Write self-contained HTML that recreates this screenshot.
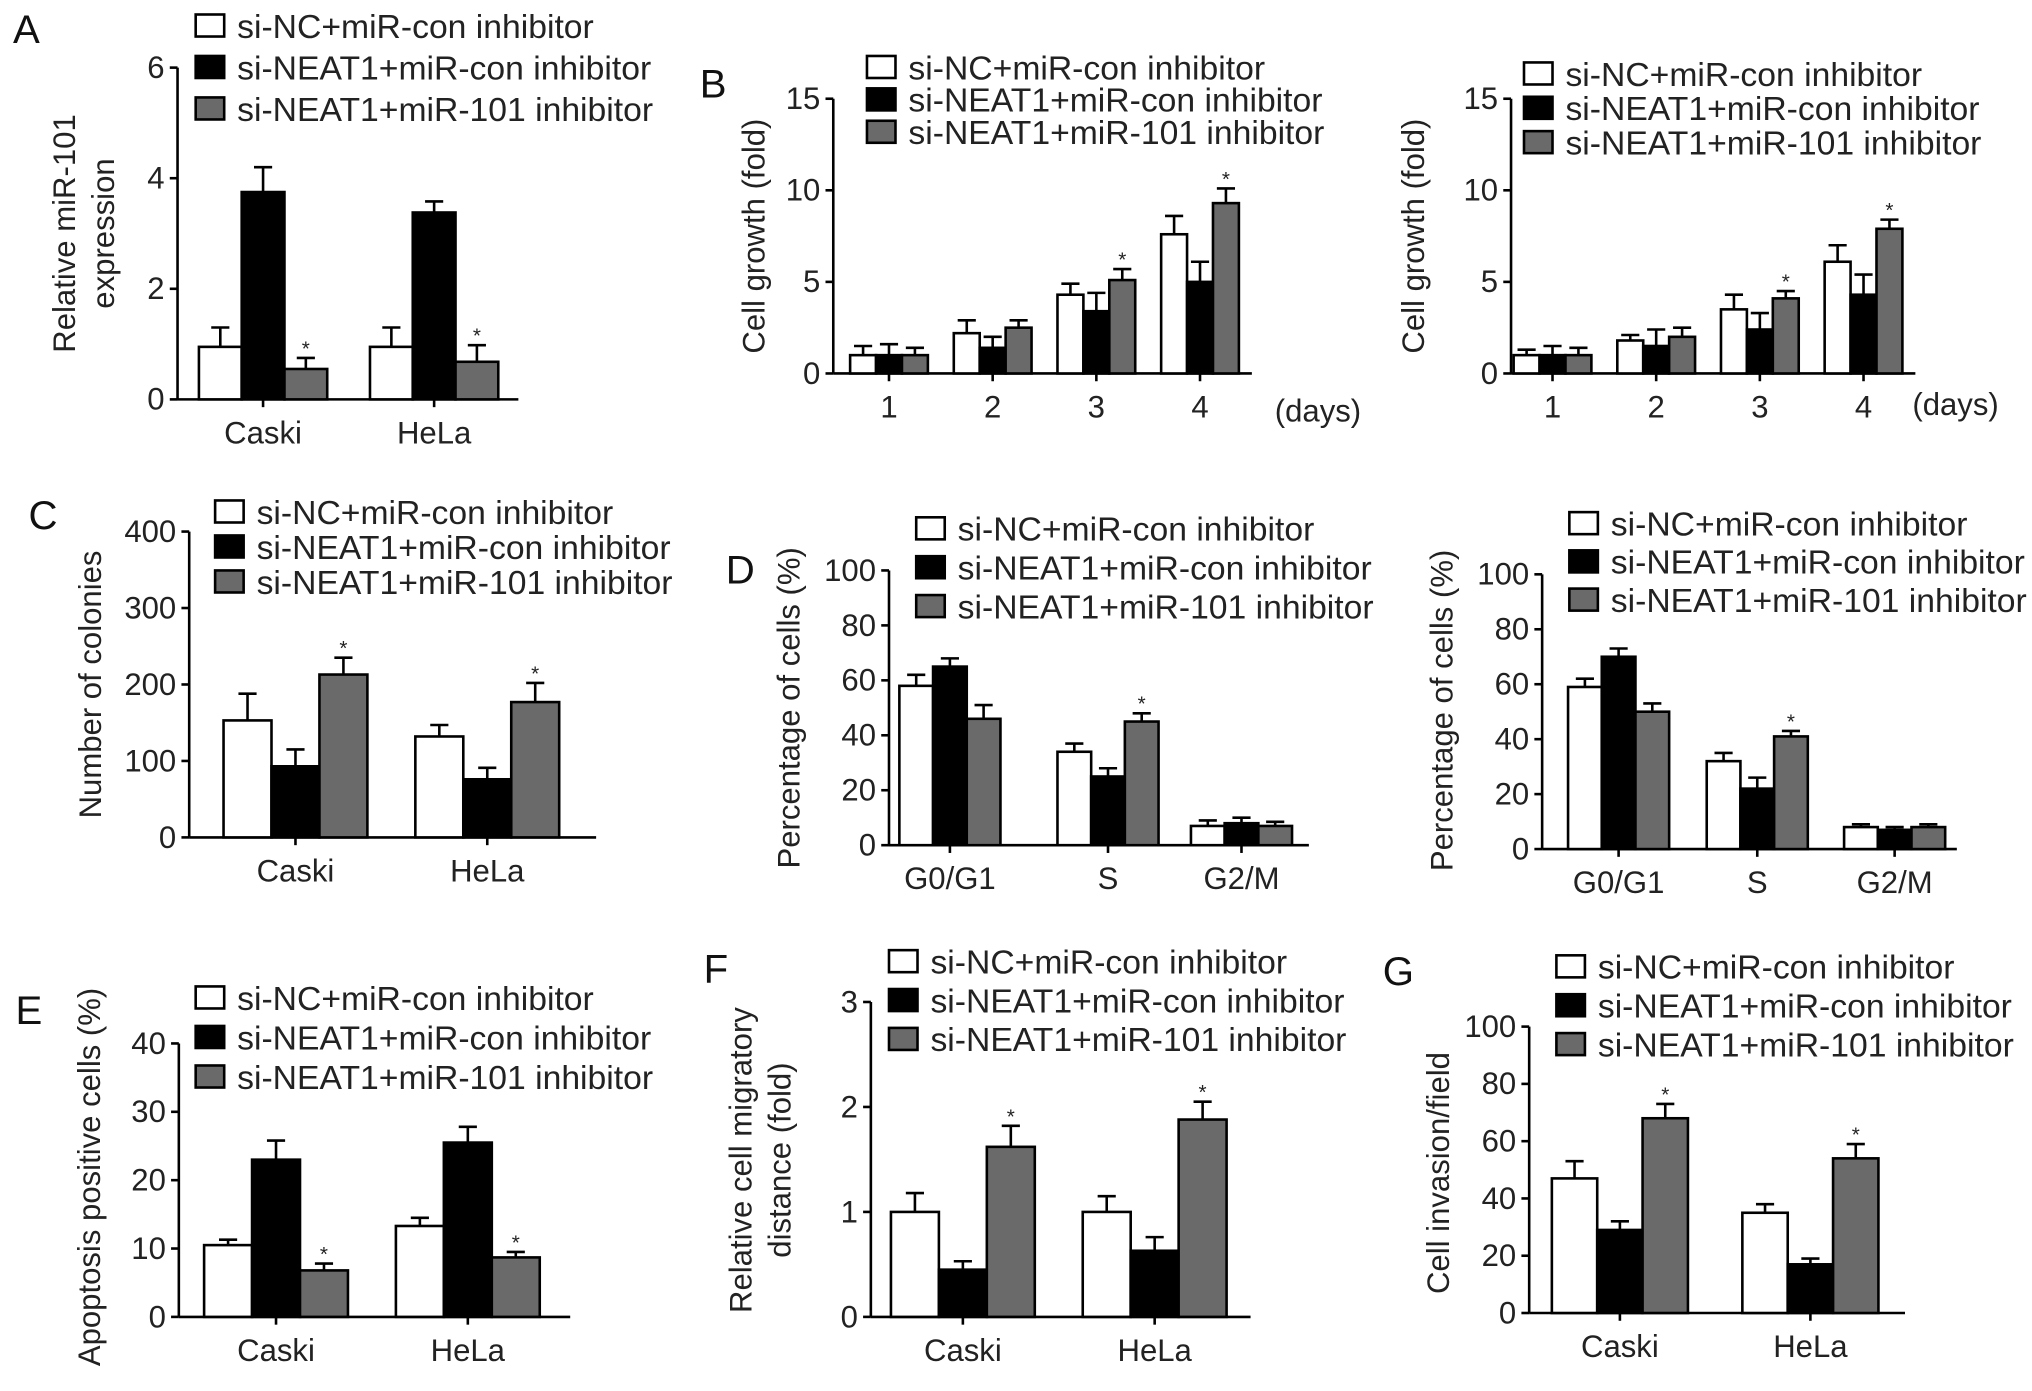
<!DOCTYPE html>
<html><head><meta charset="utf-8"><style>
html,body{margin:0;padding:0;background:#fff;}
svg{display:block;font-family:"Liberation Sans",Arial,sans-serif;}
</style></head><body>
<svg id="fig" width="2032" height="1391" viewBox="0 0 1568 1073" xmlns="http://www.w3.org/2000/svg"></svg>
<script>
// ---- Data ----
const legendLabels = ["si-NC+miR-con inhibitor","si-NEAT1+miR-con inhibitor","si-NEAT1+miR-101 inhibitor"];
const cellLines = ["Caski","HeLa"];
const days = ["1","2","3","4"];
const phases = ["G0/G1","S","G2/M"];

const aTicks = [0,2,4,6];
const aValues = [[0.95,3.75,0.55],[0.95,3.38,0.68]];
const aErrors = [[0.35,0.45,0.2],[0.35,0.2,0.3]];
const aStars = [[0,0,1],[0,0,1]];

const b1Ticks = [0,5,10,15];
const b1Values = [[1.0,1.0,1.0],[2.2,1.4,2.5],[4.3,3.4,5.1],[7.6,5.0,9.3]];
const b1Errors = [[0.5,0.6,0.4],[0.7,0.6,0.4],[0.6,1.0,0.6],[1.0,1.1,0.8]];
const b1Stars = [[0,0,0],[0,0,0],[0,0,1],[0,0,1]];

const b2Ticks = [0,5,10,15];
const b2Values = [[1.0,1.0,1.0],[1.8,1.5,2.0],[3.5,2.4,4.1],[6.1,4.3,7.9]];
const b2Errors = [[0.3,0.5,0.4],[0.3,0.9,0.5],[0.8,0.9,0.4],[0.9,1.1,0.5]];
const b2Stars = [[0,0,0],[0,0,0],[0,0,1],[0,0,1]];

const cTicks = [0,100,200,300,400];
const cValues = [[153,93,213],[132,76,177]];
const cErrors = [[35,22,22],[15,15,25]];
const cStars = [[0,0,1],[0,0,1]];

const d1Ticks = [0,20,40,60,80,100];
const d1Values = [[58,65,46],[34,25,45],[7,8,7]];
const d1Errors = [[4,3,5],[3,3,3],[2,2,1.5]];
const d1Stars = [[0,0,0],[0,0,1],[0,0,0]];

const d2Ticks = [0,20,40,60,80,100];
const d2Values = [[59,70,50],[32,22,41],[8,7,8]];
const d2Errors = [[3,3,3],[3,4,2],[1,1,1]];
const d2Stars = [[0,0,0],[0,0,1],[0,0,0]];

const eTicks = [0,10,20,30,40];
const eValues = [[10.5,23,6.8],[13.3,25.5,8.7]];
const eErrors = [[0.8,2.8,1],[1.2,2.3,0.8]];
const eStars = [[0,0,1],[0,0,1]];

const fTicks = [0,1,2,3];
const fValues = [[1.0,0.45,1.62],[1.0,0.63,1.88]];
const fErrors = [[0.18,0.08,0.2],[0.15,0.13,0.17]];
const fStars = [[0,0,1],[0,0,1]];

const gTicks = [0,20,40,60,80,100];
const gValues = [[47,29,68],[35,17,54]];
const gErrors = [[6,3,5],[3,2,5]];
const gStars = [[0,0,1],[0,0,1]];

// ---- Drawing ----
const NS="http://www.w3.org/2000/svg";
const svg=document.getElementById('fig');
const fills=["#ffffff","#000000","#6a6a6a"];
function mk(tag,attrs,parent,text){
  const e=document.createElementNS(NS,tag);
  for(const k in attrs)e.setAttribute(k,attrs[k]);
  if(text!==undefined)e.textContent=text;
  (parent||svg).appendChild(e);return e;
}
function panel(o){
  const g=mk('g',{});
  
  
  const ymax=o.ticks[o.ticks.length-1];
  const Y=v=>o.y0-(v/ymax)*(o.y0-o.yTop);
  const ya=mk('line',{x1:o.ax,y1:o.yTop,x2:o.ax,y2:o.y0,stroke:'#000','stroke-width':2},g);
  
  const xa=mk('line',{x1:o.ax,y1:o.y0,x2:o.axEnd,y2:o.y0,stroke:'#000','stroke-width':2},g);
  
  o.ticks.forEach(t=>{
    mk('line',{x1:o.ax-6,y1:Y(t),x2:o.ax,y2:Y(t),stroke:'#000','stroke-width':2},g);
    const tl=mk('text',{x:o.ax-10,y:Y(t)+8,'text-anchor':'end','font-size':24,fill:'#222'},g,String(t));
    
  });
  o.cats.forEach((c,i)=>{
    const cx=o.centers[i];
    mk('line',{x1:cx,y1:o.y0,x2:cx,y2:o.y0+6,stroke:'#000','stroke-width':2},g);
    const cl=mk('text',{x:cx,y:o.y0+34,'text-anchor':'middle','font-size':24,fill:'#222'},g,c);
    
    o.values[i].forEach((v,s)=>{
      const x=cx-1.5*o.bw+s*o.bw;
      const top=Y(v);
      const et=Y(v+o.errors[i][s]);
      const bm=x+o.bw/2;
      mk('line',{x1:bm,y1:top,x2:bm,y2:et,stroke:'#000','stroke-width':2},g);
      mk('line',{x1:bm-7,y1:et,x2:bm+7,y2:et,stroke:'#000','stroke-width':2},g);
      const r=mk('rect',{x:x,y:top,width:o.bw,height:o.y0-top,fill:fills[s],stroke:'#000','stroke-width':2},g);
      
      
      if(o.stars[i][s]){
        const st=mk('text',{x:bm,y:et-2,'text-anchor':'middle','font-size':16,fill:'#222'},g,'*');
        
      }
    });
  });
  if(o.days){
    const dl=mk('text',{x:o.days[0],y:o.days[1],'text-anchor':'middle','font-size':24,fill:'#222'},g,'(days)');
    
  }
  const tg=mk('text',{transform:`translate(${o.tx},${o.ty}) rotate(-90)`,'text-anchor':'middle','font-size':24,fill:'#222'},g);
  
  o.title.forEach((line,k)=>{mk('tspan',{x:0,dy:k===0?0:30},tg,line);});
  legendLabels.forEach((lab,s)=>{
    const ly=o.leg[1]+s*o.leg[2];
    const lg=mk('g',{},g);
    
    mk('rect',{x:o.leg[0],y:ly-9,width:22,height:17,fill:fills[s],stroke:'#000','stroke-width':2},lg);
    mk('text',{x:o.leg[0]+32,y:ly+9,'font-size':26,fill:'#222'},lg,lab);
  });
  const L=mk('text',{x:o.letter[0],y:o.letter[1],'font-size':31,fill:'#111'},g,o.letterText);
  
}
panel({name:'panel-a',letterText:'A',letter:[10,33],ax:137,axEnd:400,yTop:52,y0:308,ticks:aTicks,cats:cellLines,centers:[203,335],bw:33,values:aValues,errors:aErrors,stars:aStars,title:['Relative miR-101','expression'],tx:58,ty:180,leg:[151,20,32]});
panel({name:'panel-b-left',letterText:'B',letter:[540,75],ax:643,axEnd:966,yTop:76,y0:288,ticks:b1Ticks,cats:days,centers:[686,766,846,926],bw:20,values:b1Values,errors:b1Errors,stars:b1Stars,title:['Cell growth (fold)'],tx:590,ty:182,leg:[669,52,25],days:[1017,325]});
panel({name:'panel-b-right',letterText:'',letter:[0,0],ax:1166,axEnd:1478,yTop:76,y0:288,ticks:b2Ticks,cats:days,centers:[1198,1278,1358,1438],bw:20,values:b2Values,errors:b2Errors,stars:b2Stars,title:['Cell growth (fold)'],tx:1099,ty:182,leg:[1176,57,26.5],days:[1509,320]});
panel({name:'panel-c',letterText:'C',letter:[22,408],ax:146,axEnd:460,yTop:410,y0:646,ticks:cTicks,cats:cellLines,centers:[228,376],bw:37,values:cValues,errors:cErrors,stars:cStars,title:['Number of colonies'],tx:78,ty:528,leg:[166,395,27]});
panel({name:'panel-d-left',letterText:'D',letter:[560,450],ax:686,axEnd:1010,yTop:440,y0:652,ticks:d1Ticks,cats:phases,centers:[733,855,958],bw:26,values:d1Values,errors:d1Errors,stars:d1Stars,title:['Percentage of cells (%)'],tx:617,ty:546,leg:[707,408,30]});
panel({name:'panel-d-right',letterText:'',letter:[0,0],ax:1190,axEnd:1510,yTop:443,y0:655,ticks:d2Ticks,cats:phases,centers:[1249,1356,1462],bw:26,values:d2Values,errors:d2Errors,stars:d2Stars,title:['Percentage of cells (%)'],tx:1121,ty:548,leg:[1211,404,29.5]});
panel({name:'panel-e',letterText:'E',letter:[12,790],ax:138,axEnd:440,yTop:805,y0:1016,ticks:eTicks,cats:cellLines,centers:[213,361],bw:37,values:eValues,errors:eErrors,stars:eStars,title:['Apoptosis positive cells (%)'],tx:77,ty:908,leg:[151,770,30.5]});
panel({name:'panel-f',letterText:'F',letter:[543,758],ax:672,axEnd:965,yTop:773,y0:1016,ticks:fTicks,cats:cellLines,centers:[743,891],bw:37,values:fValues,errors:fErrors,stars:fStars,title:['Relative cell migratory','distance (fold)'],tx:580,ty:895,leg:[686,742,30]});
panel({name:'panel-g',letterText:'G',letter:[1067,760],ax:1180,axEnd:1470,yTop:792,y0:1013,ticks:gTicks,cats:cellLines,centers:[1250,1397],bw:35,values:gValues,errors:gErrors,stars:gStars,title:['Cell invasion/field'],tx:1118,ty:905,leg:[1201,746,30]});
</script>
</body></html>
